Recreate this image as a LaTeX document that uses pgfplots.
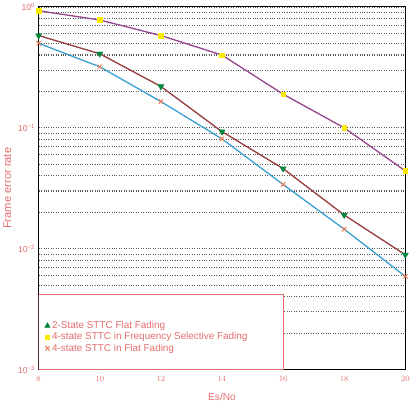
\documentclass[border=0pt]{standalone}
\usepackage{pgfplots}
\pgfplotsset{compat=1.18}
\usepackage{fontspec}
\setmainfont{Liberation Sans}
\definecolor{txt}{RGB}{228,110,110}
\definecolor{lpurple}{RGB}{150,70,140}
\definecolor{lbrown}{RGB}{150,60,60}
\definecolor{lblue}{RGB}{60,160,210}
\definecolor{mgreen}{RGB}{0,135,60}
\definecolor{myellow}{RGB}{250,235,0}
\definecolor{morange}{RGB}{235,125,80}
\begin{document}
\begin{tikzpicture}
\begin{axis}[
 scale only axis, width=362pt, height=358pt,
 ymode=log, xmin=8, xmax=20, ymin=1e-3, ymax=1,
 xtick={8,10,...,20},
 ytick={1e-3,1e-2,1e-1,1},
 yticklabels={10\textsuperscript{−3},10\textsuperscript{−2},10\textsuperscript{−1},10\textsuperscript{0}},
 ymajorgrids, yminorgrids,
 major grid style={dotted, black!65, line width=1.1pt},
 minor grid style={dotted, black!65, line width=1.1pt},
 major tick length=0pt, minor tick length=0pt,
 ticklabel style={font=\fontsize{8.5}{10}\selectfont, text=txt},
 xticklabel style={yshift=-3pt},
 xlabel={Es/No}, ylabel={Frame error rate},
 xlabel style={font=\fontsize{10}{12}\selectfont, text=txt, yshift=-5pt},
 ylabel style={font=\fontsize{11}{13}\selectfont, text=txt},
 axis line style={black, line width=1pt},
 legend style={at={(0.008,0.035)}, anchor=south west, draw=none, fill=none, font=\fontsize{9.8}{11}\selectfont, text=txt, row sep=-1.5pt},
 legend cell align=left,
]
\addplot[lpurple, line width=1.3pt, forget plot] coordinates {(8,0.93) (10,0.78) (12,0.58) (14,0.40) (16,0.19) (18,0.10) (20,0.044)};
\addplot[lbrown, line width=1.3pt, forget plot] coordinates {(8,0.58) (10,0.41) (12,0.22) (14,0.093) (16,0.046) (18,0.019) (20,0.0089)};
\addplot[lblue, line width=1.3pt, forget plot] coordinates {(8,0.50) (10,0.32) (12,0.165) (14,0.081) (16,0.034) (18,0.0145) (20,0.0059)};
\addplot[only marks, mark=triangle*, mark size=3.5pt, mark options={rotate=180, fill=mgreen, draw=mgreen}, forget plot] coordinates {(8,0.58) (10,0.41) (12,0.22) (14,0.093) (16,0.046) (18,0.019) (20,0.0089)};
\addplot[only marks, mark=square*, mark size=2.3pt, mark options={fill=myellow, draw=myellow}, forget plot] coordinates {(8,0.93) (10,0.78) (12,0.58) (14,0.40) (16,0.19) (18,0.10) (20,0.044)};
\addplot[only marks, mark=x, mark size=3pt, mark options={draw=morange, line width=1pt}, forget plot] coordinates {(8,0.50) (10,0.32) (12,0.165) (14,0.081) (16,0.034) (18,0.0145) (20,0.0059)};
\draw[txt, fill=white, line width=0.8pt] (axis cs:8,1e-3) rectangle (axis cs:16,0.0042);
\addlegendimage{only marks, mark=triangle*, mark size=3pt, mark options={fill=mgreen, draw=mgreen}}
\addlegendentry{2-State STTC Flat Fading}
\addlegendimage{only marks, mark=square*, mark size=2pt, mark options={fill=myellow, draw=myellow}}
\addlegendentry{4-state STTC in Frequency Selective Fading}
\addlegendimage{only marks, mark=x, mark size=3pt, mark options={draw=morange, line width=1pt}}
\addlegendentry{4-state STTC in Flat Fading}
\end{axis}
\end{tikzpicture}
\end{document}
